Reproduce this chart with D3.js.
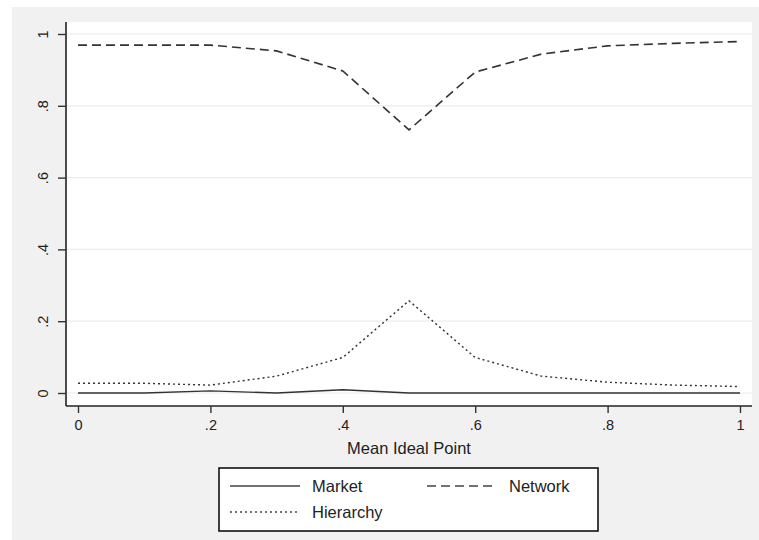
<!DOCTYPE html>
<html>
<head>
<meta charset="utf-8">
<script src="https://cdn.jsdelivr.net/npm/d3@7"></script>
<style>
  body { margin: 0; background: #fff; }
  svg { display: block; font-family: "Liberation Sans", Arial, sans-serif; }
</style>
</head>
<body>
<svg id="chart" width="759" height="540"></svg>
<script>
// mean ideal point values
var xValues = [0, 0.1, 0.2, 0.3, 0.4, 0.5, 0.6, 0.7, 0.8, 0.9, 1];
var market = [0, 0, 0.006, 0, 0.009, 0, 0, 0, 0, 0, 0];
var network = [0.969, 0.969, 0.969, 0.953, 0.897, 0.733, 0.894, 0.944, 0.967, 0.974, 0.979];
var hierarchy = [0.027, 0.027, 0.022, 0.047, 0.099, 0.257, 0.099, 0.047, 0.030, 0.022, 0.018];
var xTicks = [0, 0.2, 0.4, 0.6, 0.8, 1];
var yTicks = [0, 0.2, 0.4, 0.6, 0.8, 1];
var tickLabel = function(d){ return d === 0 ? "0" : d === 1 ? "1" : String(d).replace("0.", "."); };

renderChart();

function renderChart(){
  var svg = d3.select('#chart');

  // outer graph region
  svg.append('rect')
     .attr('x', 12).attr('y', 7)
     .attr('width', 747).attr('height', 533)
     .attr('fill', '#f1f1f1');

  // plot region
  svg.append('rect')
     .attr('x', 66).attr('y', 22)
     .attr('width', 686).attr('height', 384)
     .attr('fill', '#ffffff');

  var x = d3.scaleLinear().domain([0, 1]).range([78, 740]);
  var y = d3.scaleLinear().domain([0, 1]).range([393, 34]);

  // gridlines
  svg.append('g').selectAll('line')
     .data(yTicks)
     .enter()
     .append('line')
     .attr('x1', 66).attr('x2', 752)
     .attr('y1', d => y(d)).attr('y2', d => y(d))
     .attr('stroke', '#ebebeb')
     .attr('stroke-width', 1.2);

  var line = d3.line()
               .x((d, i) => x(xValues[i]))
               .y(d => y(d));

  var series = [
    {name: 'Market', values: market, dash: null, width: 1.4},
    {name: 'Network', values: network, dash: '9,5', width: 1.6},
    {name: 'Hierarchy', values: hierarchy, dash: '2,3', width: 1.4}
  ];

  svg.append('g').selectAll('path')
     .data(series)
     .enter()
     .append('path')
     .attr('d', d => line(d.values))
     .attr('fill', 'none')
     .attr('stroke', '#333')
     .attr('stroke-width', d => d.width)
     .attr('stroke-dasharray', d => d.dash);

  // x axis
  var xAxis = svg.append('g')
     .attr('transform', 'translate(0,406)')
     .call(d3.axisBottom(x).tickValues(xTicks).tickFormat(tickLabel).tickSize(7).tickSizeOuter(0));
  xAxis.select('.domain').attr('d', 'M66,0H752').attr('stroke', '#222').attr('stroke-width', 1.6);
  xAxis.selectAll('.tick line').attr('stroke', '#333').attr('stroke-width', 1.4);
  xAxis.selectAll('.tick text').attr('font-size', 14.5).attr('fill', '#222')
       .attr('font-family', '"Liberation Sans", Arial, sans-serif')
       .attr('y', 13).attr('dy', '0.75em');

  // y axis
  var yAxis = svg.append('g')
     .attr('transform', 'translate(66,0)')
     .call(d3.axisLeft(y).tickValues(yTicks).tickFormat(tickLabel).tickSize(8).tickSizeOuter(0));
  yAxis.select('.domain').attr('d', 'M0,22V406').attr('stroke', '#222').attr('stroke-width', 1.6);
  yAxis.selectAll('.tick line').attr('stroke', '#333').attr('stroke-width', 1.4);
  yAxis.selectAll('.tick text')
       .attr('font-size', 14.5).attr('fill', '#222')
       .attr('font-family', '"Liberation Sans", Arial, sans-serif')
       .attr('x', null).attr('dy', null)
       .attr('text-anchor', 'middle')
       .attr('transform', 'translate(-23,0) rotate(-90)')
       .attr('y', 5);

  svg.append('text')
     .attr('x', 409).attr('y', 454)
     .attr('text-anchor', 'middle')
     .attr('font-size', 16.5).attr('fill', '#222')
     .text('Mean Ideal Point');

  // legend
  svg.append('rect')
     .attr('x', 219).attr('y', 468)
     .attr('width', 379).attr('height', 63)
     .attr('fill', '#fff')
     .attr('stroke', '#111').attr('stroke-width', 1.6);

  var legendPos = [
    {x: 230, y: 486},
    {x: 427, y: 486},
    {x: 230, y: 512}
  ];

  var items = svg.append('g').selectAll('g')
     .data(series)
     .enter()
     .append('g')
     .attr('transform', (d, i) => 'translate(' + legendPos[i].x + ',' + legendPos[i].y + ')');

  items.append('line')
       .attr('x1', 0).attr('x2', 70)
       .attr('stroke', '#444')
       .attr('stroke-width', d => d.width)
       .attr('stroke-dasharray', d => d.dash);

  items.append('text')
       .attr('x', 82).attr('y', 6)
       .attr('font-size', 16.5).attr('fill', '#222')
       .text(d => d.name);
}
</script>
</body>
</html>
